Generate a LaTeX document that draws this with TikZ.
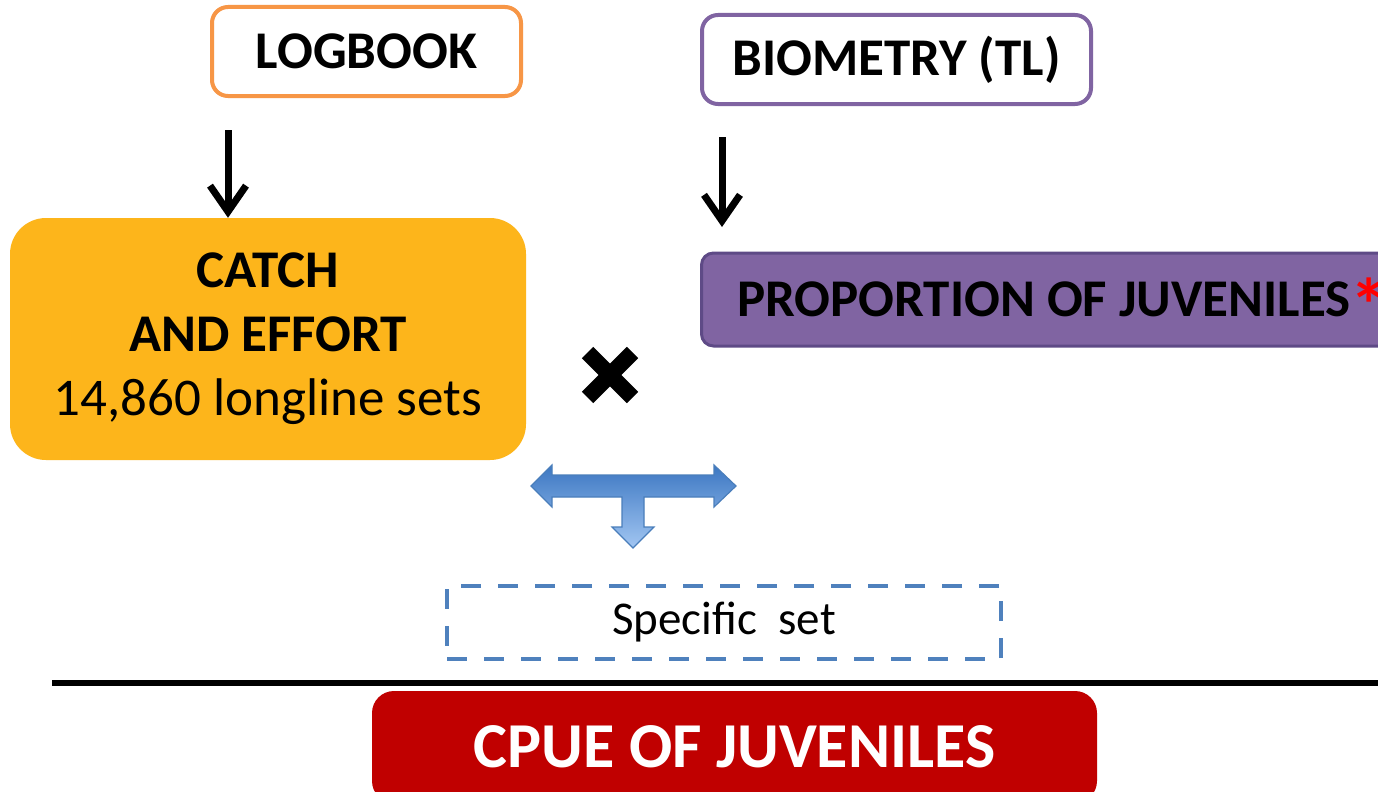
\documentclass[tikz,border=0pt]{standalone}
\usepackage{fontspec}
\setmainfont{Carlito}
\usetikzlibrary{arrows.meta}
\definecolor{logorange}{HTML}{F79646}
\definecolor{biopurple}{HTML}{8064A2}
\definecolor{propfill}{HTML}{8064A2}
\definecolor{propborder}{HTML}{5E4A86}
\definecolor{catchgold}{HTML}{FDB51B}
\definecolor{cpuered}{HTML}{C00000}
\definecolor{dashblue}{HTML}{4F81BD}
\definecolor{tborder}{HTML}{4A7EBB}
\definecolor{ttop}{HTML}{3C77C2}
\definecolor{tbottom}{HTML}{A2C6F2}
\tikzset{
  srcbox/.style={draw, line width=4pt, fill=white, rounded corners=16pt, inner sep=0pt,
    font=\fontsize{53}{60}\selectfont\bfseries},
  bigbox/.style={inner sep=0pt, align=center},
  downarrow/.style={line width=7pt, -{Straight Barb[length=26pt,width=36pt]}},
}
\begin{document}
\begin{tikzpicture}[x=1pt,y=-1pt]
\clip (0,0) rectangle (1378,792);
\fill[white] (0,0) rectangle (1378,792);

% source boxes
\node[srcbox, draw=logorange, minimum width=309pt, minimum height=89pt] (logbook) at (366.5,51.5) {LOGBOOK};
\node[srcbox, draw=biopurple, minimum width=389pt, minimum height=89pt] (biometry) at (896.5,59.5) {BIOMETRY (TL)};

% catch and effort
\node[bigbox, fill=catchgold, rounded corners=36pt, minimum width=516pt, minimum height=242pt,
  font=\fontsize{53}{64}\selectfont] (catch) at (268,339)
  {\bfseries CATCH\\ \bfseries AND EFFORT\\ 14,860 longline sets};

% proportion of juveniles
\node[bigbox, fill=propfill, draw=propborder, line width=3pt, rounded corners=12pt,
  minimum width=722pt, minimum height=93pt, anchor=west,
  font=\fontsize{53}{60}\selectfont\bfseries] (prop) at (700,299.5)
  {PROPORTION OF JUVENILES\smash{\raisebox{-15pt}{\textcolor{red}{\fontsize{75}{75}\selectfont *}}}};

% arrows
\coordinate (a1) at (228,130);
\coordinate (a2) at (722,137);
\coordinate (a2e) at (722,227);
\draw[downarrow] (a1) -- (a1 |- catch.north);
\draw[downarrow] (a2) -- (a2e);

% multiplication sign
\coordinate (times) at (610,375);
\draw[line width=16pt] ([shift={(-22.5,-22.5)}]times) -- ([shift={(22.5,22.5)}]times);
\draw[line width=16pt] ([shift={(-22.5,22.5)}]times) -- ([shift={(22.5,-22.5)}]times);

% T-shaped arrow
\path[draw=tborder, line width=1.2pt, top color=ttop, bottom color=tbottom, line join=miter]
  (531,486) -- (552,465) -- (552,475) -- (714,475) -- (714,465) -- (736,486) -- (714,507)
  -- (714,497) -- (644,497) -- (644,527) -- (654,527) -- (633,548) -- (612,527)
  -- (622,527) -- (622,497) -- (552,497) -- (552,507) -- cycle;

% specific set
\node[draw=dashblue, line width=4pt, dash pattern=on 20pt off 17pt, inner sep=0pt,
  minimum width=554pt, minimum height=73pt, font=\fontsize{47}{52}\selectfont] (specific) at (724,622.5)
  {Specific\ \ set};

% fraction line
\coordinate (lineL) at (52,683);
\coordinate (lineR) at (1378,683);
\draw[line width=6pt] (lineL) -- (lineR);

% result
\node[bigbox, fill=cpuered, rounded corners=22pt, minimum width=725pt, minimum height=112pt,
  text=white, font=\fontsize{64}{70}\selectfont\bfseries] (cpue) at (734.5,747)
  {CPUE OF JUVENILES};
\end{tikzpicture}
\end{document}
